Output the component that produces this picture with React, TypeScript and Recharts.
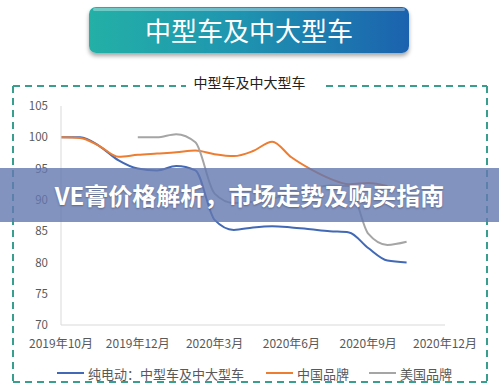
import React from "react";
import { LineChart, Line, XAxis, YAxis } from "recharts";

// x positions in label units (0 = 2019年10月 ... 5 = 2020年12月)
const positions = [0, 0.25, 0.5, 0.75, 1, 1.25, 1.5, 1.75, 2, 2.25, 2.5, 2.75, 3, 3.25, 3.5, 3.75, 4, 4.25, 4.5];
const tickLabels = ["2019年10月", "2019年12月", "2020年3月", "2020年6月", "2020年9月", "2020年12月"];
const yTicks = [70, 75, 80, 85, 90, 95, 100, 105];

const electric = [100, 100, 98.6, 96.3, 95.0, 94.7, 95.4, 94.7, 86.8, 85.2, 85.6, 85.8, 85.6, 85.3, 85.0, 84.8, 82.3, 80.3, 80.0];
const chinaBrand = [100, 99.9, 98.6, 96.9, 97.2, 97.4, 97.6, 97.9, 97.3, 97.0, 97.8, 99.3, 96.8, 94.9, 93.4, 92.5, 92.7, 92.2, null];
const usBrand = [null, null, null, null, 100, 100, 100.5, 99.2, 91.0, 89.5, 89.7, 90.2, 91.0, 91.7, 92.3, 92.2, 84.6, 82.8, 83.3];

const seriesNames = ["纯电动：中型车及中大型车", "中国品牌", "美国品牌"];
const seriesColors = ["#4169b5", "#ed7d31", "#a5a5a5"];

const data = positions.map((p, i) => ({
  x: p,
  electric: electric[i],
  china: chinaBrand[i],
  us: usBrand[i],
}));

const font = "'Noto Sans CJK SC', 'Noto Sans', sans-serif";

const ChartLegend = () => (
  <div style={{ position: "absolute", left: 0, top: 364, width: 499, display: "flex", fontSize: 13, color: "#595959", height: 18, alignItems: "center" }}>
    {seriesNames.map((n, i) => (
      <div key={n} style={{ display: "flex", alignItems: "center", marginLeft: [57, 22, 20][i] }}>
        <div style={{ width: 27, height: 2, background: seriesColors[i], marginRight: 4 }} />
        <span>{n}</span>
      </div>
    ))}
  </div>
);

export default function App() {
  return (
    <div style={{ position: "absolute", left: 0, top: 0, width: 499, height: 390, background: "#fff", overflow: "hidden", fontFamily: font }}>
      {/* banner */}
      <div
        style={{
          position: "absolute",
          left: 89,
          top: 7,
          width: 320,
          height: 46,
          borderRadius: 7,
          background: "linear-gradient(90deg, #23b0a6 0%, #1f96b0 45%, #1b62ae 100%)",
          boxShadow: "0 3px 4px rgba(0,0,0,0.35)",
          color: "#fff",
          fontSize: 26,
          lineHeight: "46px",
          textAlign: "center",
        }}
      >
        <div style={{ position: "absolute", left: 4, right: 4, top: 1, height: 3, borderRadius: 3, background: "rgba(255,255,255,0.35)" }} />
        中型车及中大型车
      </div>

      {/* chart title */}
      <div style={{ position: "absolute", left: 0, width: 499, top: 73, textAlign: "center", fontSize: 14, color: "#222", lineHeight: "18px" }}>
        中型车及中大型车
      </div>

      {/* dashed frame */}
      <svg width={499} height={390} style={{ position: "absolute", left: 0, top: 0 }}>
        <g stroke="#3a9e8e" strokeWidth={2} strokeDasharray="7 5" fill="none">
          <line x1={13} y1={86} x2={186} y2={86} />
          <line x1={326} y1={86} x2={487} y2={86} />
          <line x1={13} y1={86} x2={13} y2={382} />
          <line x1={487} y1={86} x2={487} y2={382} />
          <line x1={13} y1={382} x2={487} y2={382} />
        </g>
      </svg>

      <div style={{ position: "absolute", left: 0, top: 0 }}>
        <LineChart width={499} height={390} data={data} margin={{ top: 106, right: 54, bottom: 35, left: 21 }}>
          <XAxis
            dataKey="x"
            type="number"
            domain={[0, 5]}
            ticks={[0, 1, 2, 3, 4, 5]}
            tickFormatter={(v: number) => tickLabels[v]}
            stroke="#d9d9d9"
            tickLine={false}
            tickMargin={8}
            height={30}
            tick={{ fill: "#595959", fontSize: 12, fontFamily: font }}
            interval={0}
          />
          <YAxis
            domain={[70, 105]}
            ticks={yTicks}
            width={40}
            stroke="#d9d9d9"
            tickLine={false}
            tickMargin={7}
            tick={{ fill: "#595959", fontSize: 11.5, fontFamily: font }}
          />
          <Line dataKey="electric" name={seriesNames[0]} type="monotone" stroke={seriesColors[0]} strokeWidth={2} dot={false} isAnimationActive={false} />
          <Line dataKey="china" name={seriesNames[1]} type="monotone" stroke={seriesColors[1]} strokeWidth={2} dot={false} isAnimationActive={false} />
          <Line dataKey="us" name={seriesNames[2]} type="monotone" stroke={seriesColors[2]} strokeWidth={2} dot={false} isAnimationActive={false} />
        </LineChart>
      </div>

      <ChartLegend />

      {/* overlay band */}
      <div
        style={{
          position: "absolute",
          left: 0,
          top: 168,
          width: 499,
          height: 54,
          background: "rgba(100,120,176,0.8)",
          color: "#fff",
          fontWeight: 700,
          fontSize: 24,
          lineHeight: "54px",
          textAlign: "center",
          textShadow: "0 1px 2px rgba(0,0,0,0.3)",
        }}
      >
        VE膏价格解析，市场走势及购买指南
      </div>
    </div>
  );
}
